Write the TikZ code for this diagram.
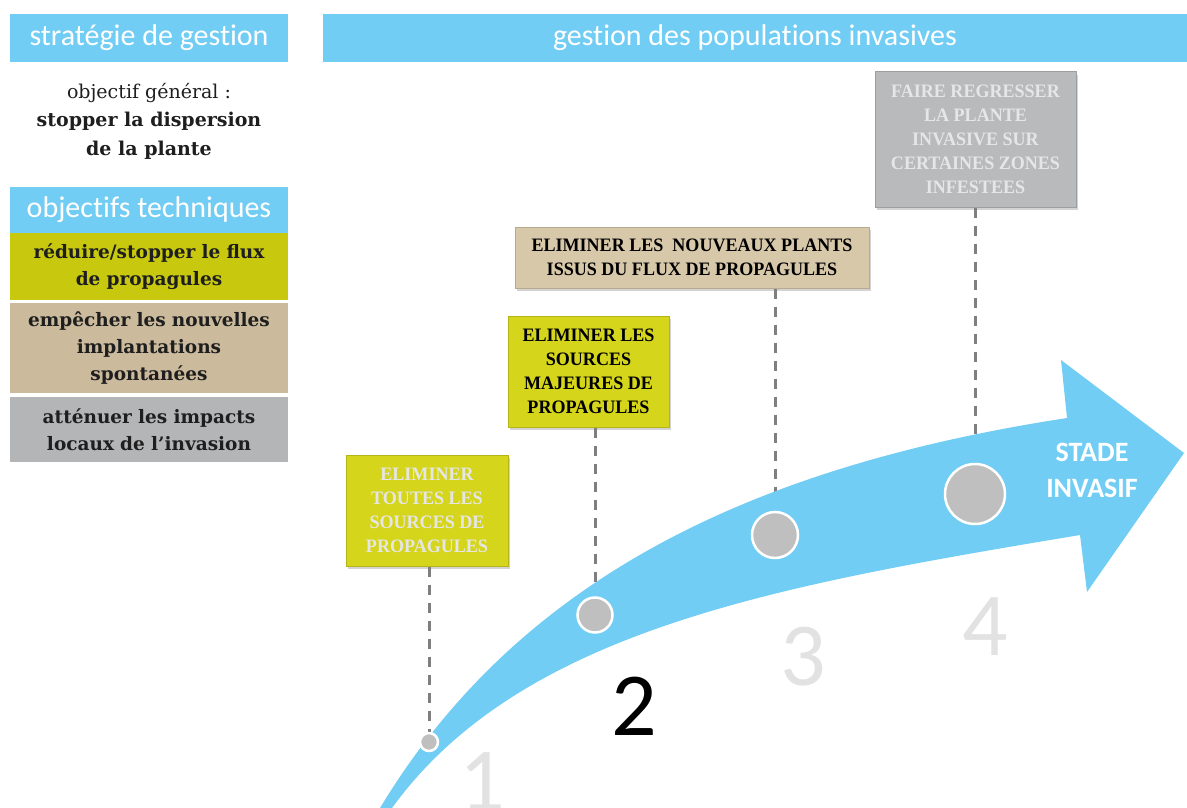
\documentclass[tikz,border=0pt]{standalone}
\usepackage{fontspec}
\setmainfont{Liberation Serif}
\newfontfamily\hdrfont[Ligatures=NoCommon]{Carlito}
\newfontfamily\dvs{DejaVu Serif}
\newfontfamily\capsfont[FakeStretch=0.95]{Liberation Serif}
\usetikzlibrary{shadows}
\pgfdeclarelayer{lines}
\pgfdeclarelayer{band}
\pgfsetlayers{lines,band,main}
\definecolor{sky}{HTML}{72CDF4}
\definecolor{ink}{HTML}{1E1E1E}
\definecolor{pyel}{HTML}{C8C80E}
\definecolor{ptan}{HTML}{CBBA9C}
\definecolor{pgry}{HTML}{B4B5B7}
\definecolor{byel}{HTML}{D5D51C}
\definecolor{btan}{HTML}{D8C8AA}
\definecolor{bgry}{HTML}{B9BABC}
\definecolor{pale}{HTML}{E6E6E6}
\definecolor{dotg}{HTML}{BFBFBF}
\definecolor{dash}{HTML}{7F7F7F}
\definecolor{numg}{HTML}{E2E2E2}
\tikzset{
  hdr/.style={fill=sky, text=white, inner sep=0pt,
    font=\hdrfont\fontsize{30}{34}\selectfont},
  panel/.style={fill=#1, minimum width=278, text width=270, align=center,
    inner sep=0pt, text=ink, font=\dvs\bfseries\fontsize{18.5}{27}\selectfont},
  stepbox/.style={fill=#1, draw=#1!85!black, line width=1pt, align=center,
    inner sep=0pt,
    drop shadow={shadow xshift=2pt, shadow yshift=-3pt, opacity=.35},
    font=\capsfont\bfseries\fontsize{19}{24}\selectfont},
  dot/.style={circle, fill=dotg, draw=white, line width=2.5pt, inner sep=0pt},
  dashline/.style={draw=dash, line width=3pt, dash pattern=on 10pt off 8pt},
  num/.style={font=\hdrfont\fontsize{90}{90}\selectfont, inner sep=0pt, anchor=base},
}
\begin{document}
\begin{tikzpicture}[x=1pt,y=-1pt]
\useasboundingbox (0,0) rectangle (1187,808);

% headers
\node[hdr, minimum width=278, minimum height=48] (h1) at (149,38) {stratégie de gestion};
\node[hdr, minimum width=864, minimum height=48] (h2) at (755,38) {gestion des populations invasives};

% objectif general
\node[align=center, text=ink, inner sep=0pt, font=\dvs\fontsize{19}{28.5}\selectfont] (og) at (149,121)
  {objectif général :\\ \textbf{stopper la dispersion}\\ \textbf{de la plante}};

% objectifs techniques
\node[hdr, minimum width=278, minimum height=46] (h3) at (149,210) {objectifs techniques};
\node[panel=pyel, minimum height=67] (t1) at (149,266.5) {réduire/stopper le flux\\ de propagules};
\node[panel=ptan, minimum height=90] (t2) at (149,348) {empêcher les nouvelles\\ implantations\\ spontanées};
\node[panel=pgry, minimum height=65] (t3) at (149,429.5) {atténuer les impacts\\ locaux de l’invasion};

% step boxes
\node[stepbox=byel, minimum width=162, minimum height=111, text=pale] (b1) at (427,510.5)
  {ELIMINER\\ TOUTES LES\\ SOURCES DE\\ PROPAGULES};
\node[stepbox=byel, minimum width=161, minimum height=111, text=black] (b2) at (588.5,371.5)
  {ELIMINER LES\\ SOURCES\\ MAJEURES DE\\ PROPAGULES};
\node[stepbox=btan, minimum width=354, minimum height=61, text=black] (b3) at (692,257.5)
  {ELIMINER LES\ \ NOUVEAUX PLANTS\\ ISSUS DU FLUX DE PROPAGULES};
\node[stepbox=bgry, minimum width=201, minimum height=135, text=pale] (b4) at (975.5,139.5)
  {FAIRE REGRESSER\\ LA PLANTE\\ INVASIVE SUR\\ CERTAINES ZONES\\ INFESTEES};

% circles
\node[dot, minimum size=18] (c1) at (429,742) {};
\node[dot, minimum size=35] (c2) at (595,615) {};
\node[dot, minimum size=46] (c3) at (775,535) {};
\node[dot, minimum size=60] (c4) at (975,494) {};

% dashed connectors
\begin{pgfonlayer}{lines}
\draw[dashline] (c1 |- b1.south) -- (c1);
\draw[dashline] (c2 |- b2.south) -- (c2);
\draw[dashline] (c3 |- b3.south) -- (c3);
\draw[dashline] (c4 |- b4.south) -- (c4);
\end{pgfonlayer}

% curved arrow
\begin{pgfonlayer}{band}
\fill[sky] (380,808) .. controls (517,581) and (748,467) .. (1067,418)
  -- (1061,360) -- (1184,453) -- (1087,592) -- (1080,535)
  .. controls (780,585) and (521.5,629.5) .. (392,808) -- cycle;
\end{pgfonlayer}

\node[align=center, text=white, inner sep=0pt, font=\hdrfont\bfseries\fontsize{28}{36}\selectfont] (st) at (1092,470)
  {STADE\\ INVASIF};

% numbers
\node[num, text=numg] (n1) at (482,810) {1};
\node[num, text=black] (n2) at (634,735) {2};
\node[num, text=numg] (n3) at (803,685) {3};
\node[num, text=numg] (n4) at (985,655) {4};
\end{tikzpicture}
\end{document}
